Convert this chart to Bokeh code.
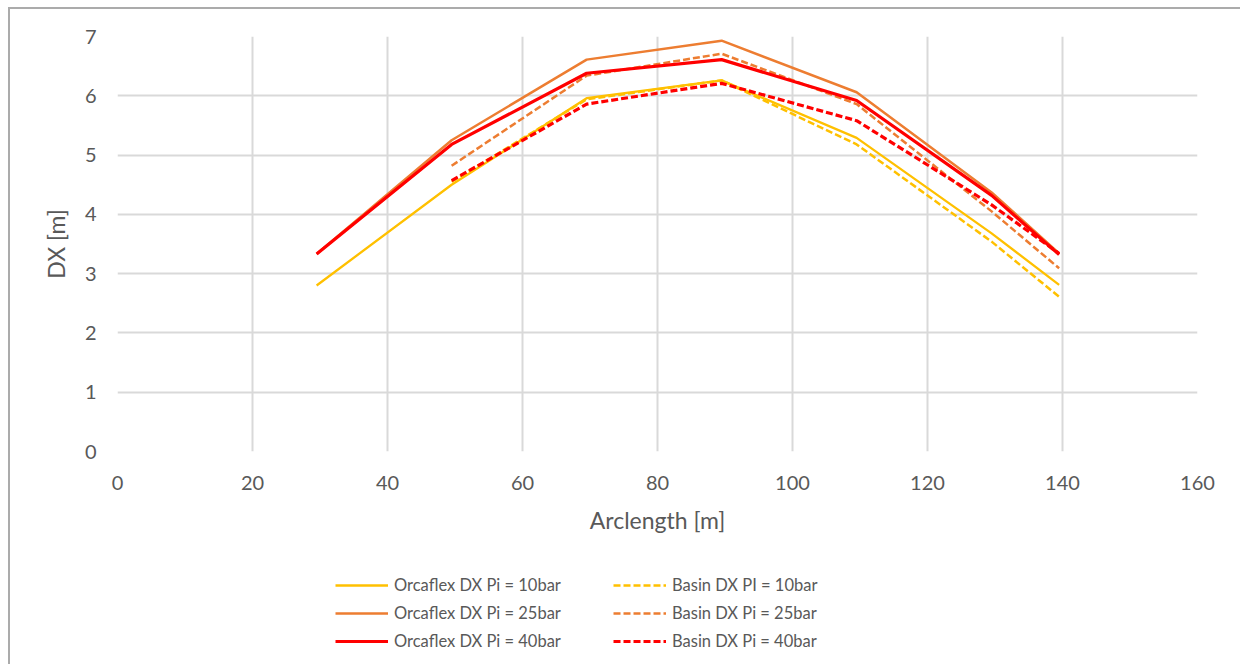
from bokeh.plotting import figure
from bokeh.models import Range1d, SingleIntervalTicker, Legend, LegendItem
from bokeh.layouts import column
from bokeh.embed import file_html
from bokeh.resources import INLINE

# ---- data ----
arc_orca = [29.5, 49.5, 69.5, 89.5, 109.5, 129.5, 139.5]
orca_10 = [2.80, 4.50, 5.96, 6.26, 5.29, 3.68, 2.81]
orca_25 = [3.33, 5.25, 6.61, 6.93, 6.06, 4.37, 3.34]
orca_40 = [3.33, 5.18, 6.38, 6.61, 5.92, 4.32, 3.32]

arc_basin = [49.5, 69.5, 89.5, 109.5, 129.5, 139.5]
basin_10 = [4.55, 5.94, 6.26, 5.18, 3.54, 2.61]
basin_25 = [4.82, 6.34, 6.71, 5.86, 4.05, 3.09]
basin_40 = [4.57, 5.86, 6.21, 5.58, 4.16, 3.34]

labels_orca = ["Orcaflex DX Pi = 10bar", "Orcaflex DX Pi = 25bar", "Orcaflex DX Pi = 40bar"]
labels_basin = ["Basin DX PI = 10bar", "Basin DX Pi = 25bar", "Basin DX Pi = 40bar"]

YELLOW = "#FFC000"
ORANGE = "#ED7D31"
RED = "#FF0000"
TXT = "#595959"
GRID = "#D9D9D9"
FONT = "Lato"
DASH = "7 3"

styles_o10 = dict(line_color=YELLOW, line_width=2.3)
styles_b10 = dict(line_color=YELLOW, line_width=2.5, line_dash=DASH)
styles_o25 = dict(line_color=ORANGE, line_width=2.5)
styles_b25 = dict(line_color=ORANGE, line_width=2.5, line_dash=DASH)
styles_o40 = dict(line_color=RED, line_width=3.2)
styles_b40 = dict(line_color=RED, line_width=3.2, line_dash=DASH)

# ---- main chart ----
p = figure(width=1230, height=540, output_backend="svg", toolbar_location=None,
           x_range=Range1d(0, 160), y_range=Range1d(0, 7),
           min_border_left=107, min_border_top=27, min_border_right=43, min_border_bottom=98)
p.outline_line_color = None
p.background_fill_color = "white"
p.border_fill_color = "white"

p.xaxis.ticker = SingleIntervalTicker(interval=20)
p.yaxis.ticker = SingleIntervalTicker(interval=1)
for ax in (p.xaxis, p.yaxis):
    ax.axis_line_color = None
    ax.major_tick_line_color = None
    ax.minor_tick_line_color = None
    ax.major_label_text_color = TXT
    ax.major_label_text_font = FONT
    ax.major_label_text_font_size = "20px"
    ax.axis_label_text_color = TXT
    ax.axis_label_text_font = FONT
    ax.axis_label_text_font_size = "23px"
    ax.axis_label_text_font_style = "normal"
p.xaxis.axis_label = "Arclength [m]"
p.yaxis.axis_label = "DX [m]"
p.xaxis.major_label_standoff = 18
p.xaxis.axis_label_standoff = 13
p.yaxis.major_label_standoff = 15
p.yaxis.axis_label_standoff = 12

p.xgrid.grid_line_color = GRID
p.ygrid.grid_line_color = GRID
p.xgrid.grid_line_width = 2
p.ygrid.grid_line_width = 2

p.line(arc_orca, orca_10, **styles_o10)
p.line(arc_basin, basin_10, **styles_b10)
p.line(arc_orca, orca_25, **styles_o25)
p.line(arc_basin, basin_25, **styles_b25)
p.line(arc_orca, orca_40, **styles_o40)
p.line(arc_basin, basin_40, **styles_b40)

# ---- legend strip (its frame is aligned with the chart's frame) ----
p2 = figure(width=1230, height=115, output_backend="svg", toolbar_location=None,
            x_range=Range1d(0, 1), y_range=Range1d(0, 1),
            min_border=0, x_axis_location=None, y_axis_location=None)
p2.outline_line_color = None
p2.grid.visible = False
p2.background_fill_color = "white"
p2.border_fill_color = "white"

# legend swatches only: one point far outside the visible range
g_o10 = p2.line([5], [5], **styles_o10)
g_o25 = p2.line([5], [5], **styles_o25)
g_o40 = p2.line([5], [5], **styles_o40)
g_b10 = p2.line([5], [5], **styles_b10)
g_b25 = p2.line([5], [5], **styles_b25)
g_b40 = p2.line([5], [5], **styles_b40)

items = [LegendItem(label=labels_orca[0], renderers=[g_o10]),
         LegendItem(label=labels_orca[1], renderers=[g_o25]),
         LegendItem(label=labels_orca[2], renderers=[g_o40]),
         LegendItem(label=labels_basin[0], renderers=[g_b10]),
         LegendItem(label=labels_basin[1], renderers=[g_b25]),
         LegendItem(label=labels_basin[2], renderers=[g_b40])]

leg = Legend(items=items, location=(218, 13), orientation="vertical", ncols=2,
             glyph_width=53, glyph_height=20, label_height=20, label_width=211,
             spacing=8, label_standoff=6, padding=0, margin=0,
             border_line_color=None, background_fill_alpha=0,
             label_text_font=FONT, label_text_font_size="16.5px",
             label_text_color=TXT)
p2.add_layout(leg, "center")

lay = column(p, p2, spacing=0)
lay.styles = {"margin-left": "8px", "margin-top": "7px",
              "border-top": "2px solid #ababab", "border-left": "2px solid #ababab"}

open("out.html", "w").write(file_html(lay, INLINE))
